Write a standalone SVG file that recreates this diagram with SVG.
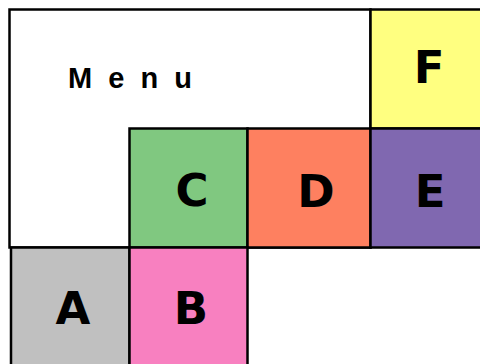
<svg xmlns="http://www.w3.org/2000/svg" width="480" height="364" viewBox="0 0 480 364">
<style>
.cell{stroke:#000;stroke-width:2.5}
.lbl{font-family:"DejaVu Sans",sans-serif;font-weight:bold;font-size:45px;text-anchor:middle;fill:#000}
.menu{font-family:"Liberation Sans",Arial,sans-serif;font-weight:bold;font-size:29px;fill:#000;letter-spacing:4px}
</style>
<rect width="480" height="364" fill="#fff"/>
<g id="menu">
<rect class="cell" x="9.5" y="9.5" width="361" height="238" fill="#fff"/>
<text class="menu" x="68" y="88">M e n u</text>
</g>
<g id="F">
<rect class="cell" x="370.5" y="9.5" width="120" height="119" fill="#ffff80"/>
<text class="lbl" x="429" y="83">F</text>
</g>
<g id="C">
<rect class="cell" x="129.5" y="128.5" width="118" height="119" fill="#80c880"/>
<text class="lbl" x="192" y="206">C</text>
</g>
<g id="D">
<rect class="cell" x="247.5" y="128.5" width="123" height="119" fill="#fe8060"/>
<text class="lbl" x="316" y="207">D</text>
</g>
<g id="E">
<rect class="cell" x="370.5" y="128.5" width="120" height="119" fill="#8068b0"/>
<text class="lbl" x="430" y="207">E</text>
</g>
<g id="A">
<rect class="cell" x="11" y="247.5" width="118.5" height="130" fill="#c0c0c0"/>
<text class="lbl" x="73" y="324">A</text>
</g>
<g id="B">
<rect class="cell" x="129.5" y="247.5" width="118" height="130" fill="#f880c0"/>
<text class="lbl" x="191" y="324">B</text>
</g>
<g id="connectors"/>
</svg>
